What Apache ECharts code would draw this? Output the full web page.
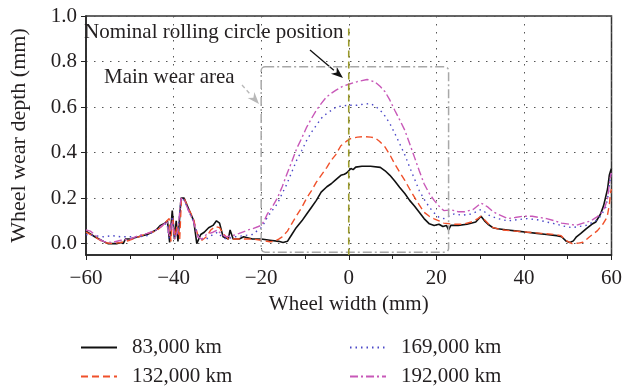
<!DOCTYPE html>
<html>
<head>
<meta charset="utf-8">
<script src="https://cdn.jsdelivr.net/npm/echarts@6/dist/echarts.min.js"></script>
<style>
    html, body {margin: 0; padding: 0; background: #fff;}
    #chart {width: 625px; height: 389px;}
</style>
</head>
<body>
<div id="chart"></div>
<script>
// wear profiles, [wheel width (mm), wear depth (mm)]
var wear83k = [[-60,0.055],[-58,0.03],[-56,0.01],[-55,0.0],[-53,0.0],[-52,0.005],[-51.5,0.0],[-51,0.02],[-50,0.02],[-48,0.03],[-46,0.04],[-44,0.06],[-43,0.08],[-42,0.09],[-41.4,0.1],[-40.9,0.005],[-40.3,0.145],[-39.8,0.02],[-39.4,0.1],[-39,0.01],[-38.3,0.2],[-37.6,0.2],[-36.5,0.15],[-35.4,0.1],[-34.7,0.0],[-33.8,0.04],[-33,0.05],[-32,0.07],[-31,0.08],[-30.2,0.1],[-29.5,0.09],[-28.7,0.03],[-27.5,0.02],[-27.1,0.06],[-26.4,0.02],[-25,0.02],[-24,0.03],[-22,0.02],[-20,0.02],[-18,0.015],[-16,0.01],[-15,0.005],[-14,0.01],[-13,0.04],[-12,0.07],[-10.7,0.1],[-9.6,0.13],[-8.5,0.16],[-7.4,0.19],[-6.3,0.226],[-5,0.25],[-4,0.263],[-3,0.28],[-1.8,0.3],[-1,0.305],[-0.5,0.31],[0,0.32],[0.5,0.33],[1,0.325],[1.6,0.336],[3,0.34],[5,0.34],[7.2,0.335],[8.3,0.32],[9.4,0.3],[10.5,0.275],[11.6,0.248],[12.8,0.22],[13.9,0.19],[15,0.165],[16.1,0.138],[17.2,0.11],[18.4,0.087],[19.5,0.08],[20.6,0.085],[21.5,0.075],[22.3,0.08],[22.8,0.06],[23.3,0.08],[25,0.08],[27,0.085],[29,0.095],[30.2,0.12],[31,0.1],[31.8,0.085],[32.9,0.07],[34,0.065],[36.3,0.06],[38.5,0.055],[40.7,0.05],[43,0.045],[45.2,0.04],[47.5,0.035],[48.6,0.03],[49.7,0.01],[50.5,0.005],[51.3,0.012],[52,0.03],[53,0.045],[54.2,0.065],[55.5,0.085],[56.4,0.095],[57.5,0.13],[58.2,0.167],[59.1,0.24],[59.5,0.3],[59.8,0.32],[60,0.33]];
var wear132k = [[-60,0.05],[-58,0.03],[-56,0.005],[-54,0.0],[-52,0.005],[-50,0.015],[-48,0.03],[-46,0.045],[-44,0.055],[-42.5,0.08],[-41.5,0.1],[-41,0.11],[-40.6,0.01],[-40.2,0.12],[-39.7,0.03],[-39.2,0.08],[-38.6,0.02],[-38.2,0.2],[-37.5,0.195],[-36.5,0.15],[-35.5,0.11],[-34.5,0.04],[-33.5,0.015],[-32.5,0.03],[-31.5,0.06],[-30.5,0.075],[-29.5,0.07],[-28.5,0.04],[-27.5,0.02],[-26,0.02],[-24,0.02],[-22,0.02],[-20,0.015],[-18,0.008],[-17,0.01],[-16,0.02],[-15.2,0.03],[-14,0.055],[-13,0.088],[-12,0.12],[-10.7,0.16],[-9.6,0.2],[-8.5,0.233],[-7.4,0.27],[-6.3,0.3],[-5,0.335],[-4,0.366],[-3,0.39],[-1.8,0.43],[-0.5,0.45],[0.4,0.461],[2,0.468],[3.4,0.47],[5,0.468],[6,0.465],[7,0.45],[8.3,0.424],[9.4,0.39],[10.5,0.35],[11.6,0.315],[12.8,0.278],[13.9,0.24],[15,0.204],[16.1,0.17],[17.2,0.138],[18.4,0.12],[19.5,0.109],[20.6,0.1],[21.7,0.09],[24,0.085],[26,0.085],[28,0.095],[29.5,0.11],[30.2,0.12],[31,0.105],[32,0.085],[33,0.07],[35,0.06],[38,0.055],[41,0.05],[44,0.045],[47,0.04],[48.5,0.035],[49.5,0.015],[51,0.0],[52.5,0.002],[53.5,0.006],[55,0.03],[56.8,0.057],[58,0.085],[59,0.116],[59.5,0.17],[59.8,0.226],[60,0.24]];
var wear169k = [[-60,0.04],[-58,0.035],[-56,0.03],[-54,0.035],[-52,0.03],[-50,0.03],[-48,0.03],[-46,0.035],[-44,0.06],[-42.5,0.08],[-41.5,0.09],[-41,0.02],[-40.3,0.12],[-39.8,0.03],[-39,0.05],[-38.3,0.2],[-37.5,0.19],[-36.5,0.14],[-35.5,0.1],[-34.5,0.04],[-33.5,0.02],[-32.5,0.02],[-31,0.04],[-30,0.05],[-29,0.03],[-28,0.02],[-26,0.03],[-24,0.035],[-22,0.04],[-20,0.07],[-19.3,0.09],[-18.6,0.116],[-17.5,0.145],[-16.3,0.175],[-15.2,0.22],[-14.1,0.263],[-13,0.315],[-11.9,0.366],[-10.7,0.41],[-9.6,0.454],[-8.5,0.49],[-7.4,0.52],[-6.3,0.55],[-5.1,0.571],[-4,0.585],[-2.9,0.6],[-1.5,0.605],[0,0.608],[1.9,0.608],[3.5,0.613],[4.9,0.615],[6,0.605],[7.2,0.586],[8.3,0.56],[9.4,0.527],[10.5,0.485],[11.6,0.44],[12.8,0.39],[13.9,0.336],[15,0.285],[16.1,0.233],[17.2,0.195],[18.4,0.16],[19.5,0.135],[20.6,0.116],[21.7,0.11],[22.8,0.12],[24,0.13],[26,0.125],[28,0.13],[30.2,0.15],[31,0.14],[32,0.125],[34,0.11],[36.3,0.1],[38.5,0.105],[40.7,0.11],[43,0.105],[45.2,0.095],[47.5,0.085],[49.5,0.075],[51,0.07],[52.5,0.075],[54.2,0.08],[56.4,0.1],[57.5,0.12],[58.7,0.16],[59.3,0.22],[59.8,0.3],[60,0.31]];
var wear192k = [[-60,0.06],[-59,0.055],[-58,0.04],[-57,0.02],[-56,0.01],[-54,0.005],[-52,0.015],[-50,0.02],[-48,0.035],[-46,0.045],[-44,0.06],[-42.5,0.08],[-41.5,0.1],[-41,0.03],[-40.3,0.1],[-39.7,0.02],[-39,0.06],[-38.3,0.2],[-37.5,0.19],[-36.5,0.14],[-35.5,0.1],[-34.5,0.03],[-33.5,0.02],[-32.5,0.04],[-31,0.05],[-30,0.06],[-29,0.04],[-28,0.03],[-26.5,0.035],[-25,0.045],[-23,0.06],[-22,0.065],[-20,0.08],[-19.3,0.1],[-18.6,0.13],[-17.5,0.16],[-16.3,0.2],[-15.2,0.25],[-14.1,0.307],[-13,0.36],[-11.9,0.417],[-10.7,0.465],[-9.6,0.512],[-8.5,0.55],[-7.4,0.586],[-6.3,0.615],[-5.1,0.644],[-4,0.66],[-2.9,0.674],[-1.5,0.69],[0,0.7],[2,0.712],[4.2,0.721],[6,0.71],[7.2,0.69],[8.3,0.667],[9.4,0.63],[10.5,0.586],[11.6,0.545],[12.8,0.498],[13.9,0.44],[15,0.38],[16.1,0.32],[17.2,0.263],[18.4,0.22],[19.5,0.19],[20.6,0.165],[21.7,0.145],[23.5,0.148],[25,0.14],[26.5,0.14],[28.4,0.15],[30.2,0.178],[31,0.17],[31.8,0.16],[33,0.14],[34,0.13],[36.3,0.11],[38,0.115],[39.6,0.12],[41.9,0.12],[43.5,0.115],[45.2,0.11],[47,0.1],[48.6,0.09],[50.5,0.085],[51.9,0.08],[53.5,0.09],[55.3,0.1],[56.5,0.115],[57.5,0.13],[58.5,0.16],[59.1,0.2],[59.5,0.26],[59.8,0.3],[60,0.31]];

var seriesNames = ['83,000 km', '132,000 km', '169,000 km', '192,000 km'];
var yTickValues = [0, 0.2, 0.4, 0.6, 0.8, 1.0];
// main wear area box: x from, x to, y from, y to
var wearArea = [-20, 22.8, -0.038, 0.777];
var nominalX = 0;

var FONT = '"Liberation Serif", "DejaVu Serif", serif';
var TXT = '#231f20';

var myChart = echarts.init(document.getElementById('chart'));

// one legend per entry, laid out as 2 x 2
var legendPos = [[80, 337], [80, 366], [349, 337], [349, 366]];
var legends = seriesNames.map(function (name, i) {
    return {
        data: [name], left: legendPos[i][0], top: legendPos[i][1], padding: 0,
        itemWidth: 36, itemHeight: 20,
        itemStyle: {opacity: 0},
        textStyle: {fontFamily: FONT, fontSize: 21, color: TXT, padding: [0, 0, 0, 10]}
    };
});

var option = {
    backgroundColor: '#fff',
    animation: false,
    grid: {left: 80, right: 9, top: 16, bottom: 134, show: true, borderColor: '#333', borderWidth: 1.5},
    legend: legends,
    xAxis: {
        type: 'value', min: -60, max: 60, interval: 20,
        name: 'Wheel width (mm)', nameLocation: 'middle', nameGap: 38,
        nameTextStyle: {fontFamily: FONT, fontSize: 21, color: TXT},
        axisLine: {onZero: false, lineStyle: {color: '#222', width: 1.5}},
        axisTick: {length: 5, lineStyle: {color: '#222'}},
        minorTick: {show: true, splitNumber: 2, length: 4, lineStyle: {color: '#222'}},
        axisLabel: {
            fontFamily: FONT, fontSize: 21, color: TXT, margin: 13,
            formatter: function (v) { return String(v).replace('-', '\u2212'); }
        },
        splitLine: {show: true, lineStyle: {color: '#555', type: [1.5, 6.5], width: 1}}
    },
    yAxis: {
        type: 'value', min: -0.05, max: 1.0,
        name: 'Wheel wear depth (mm)', nameLocation: 'middle', nameGap: 56,
        nameTextStyle: {fontFamily: FONT, fontSize: 22, color: TXT},
        axisLine: {onZero: false, lineStyle: {color: '#222', width: 1.5}},
        axisTick: {length: 5, customValues: yTickValues, lineStyle: {color: '#222'}},
        axisLabel: {
            fontFamily: FONT, fontSize: 21, color: TXT, margin: 9,
            customValues: yTickValues,
            formatter: function (v) { return v.toFixed(1); }
        },
        splitLine: {show: true, lineStyle: {color: '#555', type: [1.5, 6.5], width: 1}}
    },
    series: [
        {
            name: seriesNames[0], type: 'line', data: wear83k, symbol: 'none',
            lineStyle: {color: '#111', width: 1.6, type: 'solid'}, itemStyle: {color: '#111'}
        },
        {
            name: seriesNames[1], type: 'line', data: wear132k, symbol: 'none',
            lineStyle: {color: '#f0502a', width: 1.4, type: [7, 4]}, itemStyle: {color: '#f0502a'}
        },
        {
            name: seriesNames[2], type: 'line', data: wear169k, symbol: 'none',
            lineStyle: {color: '#4b48c8', width: 1.4, type: [1.5, 4]}, itemStyle: {color: '#4b48c8'}
        },
        {
            name: seriesNames[3], type: 'line', data: wear192k, symbol: 'none',
            lineStyle: {color: '#c858b8', width: 1.4, type: [8, 3, 2, 3]}, itemStyle: {color: '#c858b8'}
        }
    ]
};

myChart.setOption(option);

function arrow(x1, y1, x2, y2, color, dash) {
    var a = Math.atan2(y2 - y1, x2 - x1);
    var len = 12, half = 4.5;
    var bx = x2 - len * Math.cos(a), by = y2 - len * Math.sin(a);
    return [
        {type: 'line', shape: {x1: x1, y1: y1, x2: bx, y2: by},
            style: {stroke: color, lineWidth: 1.3, lineDash: dash}},
        {type: 'polygon', shape: {points: [
            [x2, y2],
            [bx + half * Math.sin(a), by - half * Math.cos(a)],
            [x2 - 0.7 * len * Math.cos(a), y2 - 0.7 * len * Math.sin(a)],
            [bx - half * Math.sin(a), by + half * Math.cos(a)]
        ]}, style: {fill: color}}
    ];
}

var p1 = myChart.convertToPixel({gridIndex: 0}, [wearArea[0], wearArea[3]]);
var p2 = myChart.convertToPixel({gridIndex: 0}, [wearArea[1], wearArea[2]]);
var n1 = myChart.convertToPixel({gridIndex: 0}, [nominalX, 0.945]);
var n2 = myChart.convertToPixel({gridIndex: 0}, [nominalX, -0.05]);

var graphics = [
    {type: 'rect', shape: {x: p1[0], y: p1[1], width: p2[0] - p1[0], height: p2[1] - p1[1], r: 4},
        style: {fill: null, stroke: '#a8a8a8', lineWidth: 1.5, lineDash: [9, 3, 2, 3]}, z: 5},
    {type: 'line', shape: {x1: n1[0], y1: n1[1], x2: n2[0], y2: n2[1]},
        style: {stroke: '#9a9a2c', lineWidth: 1.6, lineDash: [7, 4]}, z: 6},
    {type: 'text', left: 84, top: 22, z: 7,
        style: {text: 'Nominal rolling circle position', fontFamily: FONT, fontSize: 21, fill: TXT}},
    {type: 'text', left: 104, top: 67, z: 7,
        style: {text: 'Main wear area', fontFamily: FONT, fontSize: 21, fill: TXT}}
];
graphics = graphics.concat(arrow(310, 50, 343, 78, '#111', null));
graphics = graphics.concat(arrow(242, 85, 259, 104, '#b8b8b8', [4, 3]));

myChart.setOption({graphic: graphics});
</script>
</body>
</html>
